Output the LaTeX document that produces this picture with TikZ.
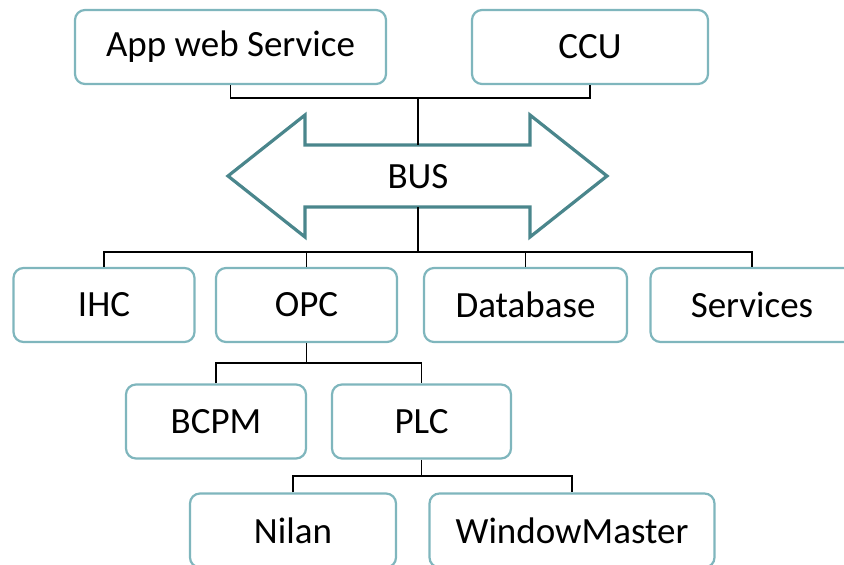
\documentclass[tikz,border=0pt]{standalone}
\usepackage{fontspec}
\setmainfont{Carlito}
\definecolor{boxc}{RGB}{127,182,189}
\definecolor{busc}{RGB}{74,134,140}
\begin{document}
\begin{tikzpicture}[x=1pt,y=-1pt,
  box/.style={draw=boxc, line width=2.2pt, rounded corners=10pt, fill=white,
    rectangle, inner sep=0pt, minimum height=74pt,
    font=\fontsize{37}{40}\selectfont},
  conn/.style={draw=black, line width=1.6pt}]
\useasboundingbox (0,0) rectangle (844,565);
\begin{scope}
\clip (0,0) rectangle (844,565);
% top row
\node[box, minimum width=311pt] (app) at (230.5,47) {App web Service};
\node[box, minimum width=236pt] (ccu) at (590,47) {CCU};
% bus arrow
\draw[busc, line width=3.2pt, line join=miter, fill=white]
  (228,176) -- (305,115) -- (305,145) -- (530,145) -- (530,115) -- (607,176)
  -- (530,237) -- (530,207) -- (305,207) -- (305,237) -- cycle;
\node[font=\fontsize{37}{40}\selectfont, inner sep=0pt] (bus) at (418,177) {BUS};
\coordinate (bustop) at (418,145);
\coordinate (busbot) at (418,207);
\coordinate (j1) at (418,98);
\coordinate (j2) at (418,252);
% second row
\node[box, minimum width=181pt] (ihc) at (104,305) {IHC};
\node[box, minimum width=181pt] (opc) at (306.5,305) {OPC};
\node[box, minimum width=203pt] (db) at (525.5,305) {Database};
\node[box, minimum width=203pt] (svc) at (752,305) {Services};
% third row
\node[box, minimum width=180pt] (bcpm) at (216,421.5) {BCPM};
\node[box, minimum width=179pt] (plc) at (421.5,421.5) {PLC};
% fourth row
\node[box, minimum width=206pt] (nilan) at (293,530.5) {Nilan};
\node[box, minimum width=285pt] (wm) at (572,530.5) {WindowMaster};
% connectors
\draw[conn] (app.south) |- (j1) -| (ccu.south);
\draw[conn] (j1) -- (bustop);
\draw[conn] (busbot) -- (j2);
\draw[conn] (ihc.north) |- (j2) -| (svc.north);
\draw[conn] (j2) -| (opc.north);
\draw[conn] (j2) -| (db.north);
\coordinate (j3) at (306.5,363);
\draw[conn] (opc.south) -- (j3);
\draw[conn] (bcpm.north) |- (j3) -| (plc.north);
\coordinate (j4) at (421.5,476);
\draw[conn] (plc.south) -- (j4);
\draw[conn] (nilan.north) |- (j4) -| (wm.north);
\end{scope}
\end{tikzpicture}
\end{document}
